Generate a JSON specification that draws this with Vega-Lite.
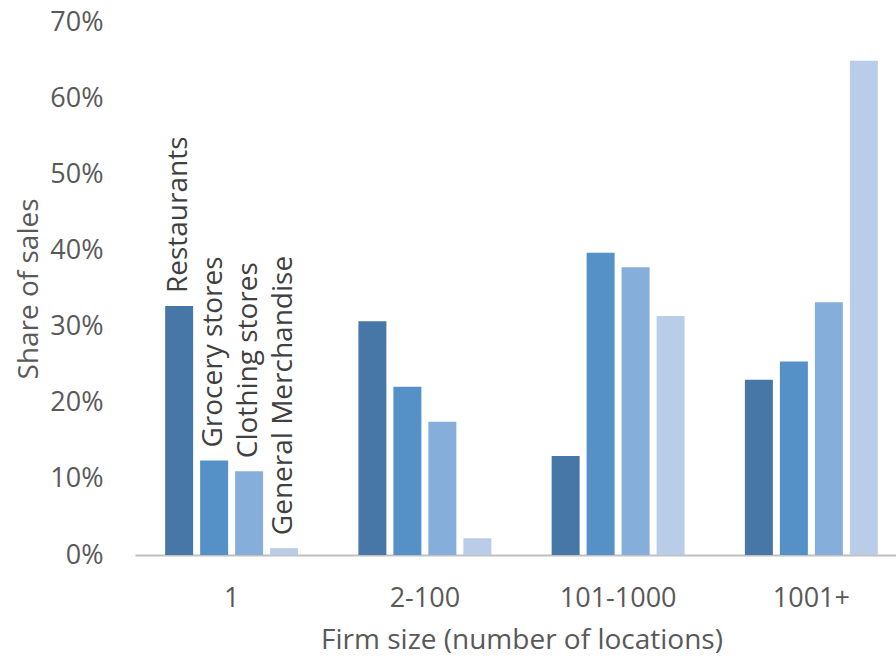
{
  "$schema": "https://vega.github.io/schema/vega-lite/v6.json",
  "autosize": {"type": "none"},
  "width": 761,
  "height": 533,
  "padding": {"left": 135, "top": 22, "right": 0, "bottom": 106},
  "background": "white",
  "config": {"view": {"stroke": null}, "font": "Open Sans"},
  "data": {
    "values": [
      {"size": "1", "sector": "Restaurants", "share": 0.327},
      {"size": "1", "sector": "Grocery stores", "share": 0.124},
      {"size": "1", "sector": "Clothing stores", "share": 0.110},
      {"size": "1", "sector": "General Merchandise", "share": 0.009},
      {"size": "2-100", "sector": "Restaurants", "share": 0.307},
      {"size": "2-100", "sector": "Grocery stores", "share": 0.221},
      {"size": "2-100", "sector": "Clothing stores", "share": 0.175},
      {"size": "2-100", "sector": "General Merchandise", "share": 0.022},
      {"size": "101-1000", "sector": "Restaurants", "share": 0.130},
      {"size": "101-1000", "sector": "Grocery stores", "share": 0.397},
      {"size": "101-1000", "sector": "Clothing stores", "share": 0.378},
      {"size": "101-1000", "sector": "General Merchandise", "share": 0.314},
      {"size": "1001+", "sector": "Restaurants", "share": 0.230},
      {"size": "1001+", "sector": "Grocery stores", "share": 0.254},
      {"size": "1001+", "sector": "Clothing stores", "share": 0.332},
      {"size": "1001+", "sector": "General Merchandise", "share": 0.649}
    ]
  },
  "encoding": {
    "x": {
      "field": "size",
      "type": "nominal",
      "sort": ["1", "2-100", "101-1000", "1001+"],
      "scale": {"range": [0, 773], "paddingInner": 0.312, "paddingOuter": 0.156},
      "axis": {
        "title": "Firm size (number of locations)",
        "labelAngle": 0,
        "labelFontSize": 27,
        "labelColor": "#595959",
        "labelPadding": 30,
        "ticks": false,
        "domainColor": "#c0c0c0",
        "domainWidth": 2,
        "titleFontSize": 28,
        "titleFontWeight": "normal",
        "titleColor": "#595959",
        "titlePadding": 15
      }
    },
    "xOffset": {
      "field": "sector",
      "type": "nominal",
      "sort": ["Restaurants", "Grocery stores", "Clothing stores", "General Merchandise"],
      "scale": {"paddingInner": 0.2, "paddingOuter": 0}
    },
    "y": {
      "field": "share",
      "type": "quantitative",
      "scale": {"domain": [0, 0.7], "nice": false},
      "axis": {
        "title": "Share of sales",
        "values": [0, 0.1, 0.2, 0.3, 0.4, 0.5, 0.6, 0.7],
        "format": ".0%",
        "domain": false,
        "ticks": false,
        "grid": false,
        "labelFontSize": 27,
        "labelColor": "#595959",
        "labelPadding": 32,
        "titleFontSize": 28,
        "titleFontWeight": "normal",
        "titleColor": "#595959",
        "titlePadding": 6
      }
    }
  },
  "layer": [
    {
      "mark": {"type": "bar"},
      "encoding": {
        "color": {
          "field": "sector",
          "type": "nominal",
          "sort": ["Restaurants", "Grocery stores", "Clothing stores", "General Merchandise"],
          "scale": {
            "domain": ["Restaurants", "Grocery stores", "Clothing stores", "General Merchandise"],
            "range": ["#4677a7", "#5591c7", "#85aedb", "#b9cde8"]
          },
          "legend": null
        }
      }
    },
    {
      "transform": [{"filter": "datum.size === '1'"}],
      "mark": {
        "type": "text",
        "angle": 270,
        "align": "left",
        "baseline": "middle",
        "dx": 13,
        "fontSize": 28,
        "color": "#404040"
      },
      "encoding": {"text": {"field": "sector", "type": "nominal"}}
    }
  ]
}
